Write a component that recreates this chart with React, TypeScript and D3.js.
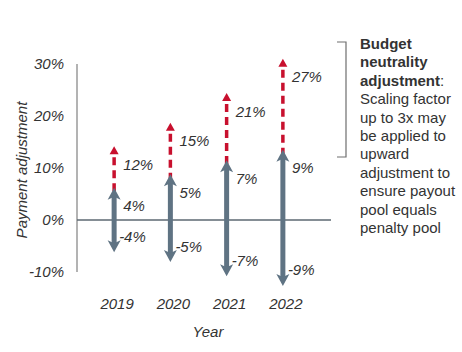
import React, { useRef, useEffect } from 'react';
import * as d3 from 'd3';

// chart data
const years = ['2019', '2020', '2021', '2022'];
const upLabels = ['4%', '5%', '7%', '9%'];
const downLabels = ['-4%', '-5%', '-7%', '-9%'];
const scaledLabels = ['12%', '15%', '21%', '27%'];
// arrow ends as drawn against the axis (the arrows are schematic, not to scale)
const upEnds = [6.2, 8.8, 11.5, 13.5];
const downEnds = [-6.2, -8.1, -10.8, -12.7];
const scaledEnds = [14.2, 18.7, 24.4, 31];
const yTicks = [30, 20, 10, 0, -10];
const noteBold = ['Budget', 'neutrality', 'adjustment'];
const noteLines = ['Scaling factor', 'up to 3x may', 'be applied to', 'upward', 'adjustment to', 'ensure payout', 'pool equals', 'penalty pool'];

const GRAY = '#5f7383';
const RED = '#c8102e';
const TEXT = '#333333';
const FONT = '"Liberation Sans", Arial, sans-serif';

const App = () => {
  const svgRef = useRef<SVGSVGElement>(null);

  useEffect(() => {
    const svg = d3.select(svgRef.current);
    svg.selectAll('*').remove();
    svg.attr('width', 462).attr('height', 352).style('font-family', FONT);

    const y = d3.scaleLinear().domain([-10, 30]).range([272, 64]);
    const x = d3.scaleBand().domain(years).range([86, 311]).padding(0);
    const cx = (d: string) => (x(d) as number) + x.bandwidth() / 2;

    // y axis line
    svg.append('line')
      .attr('x1', 77).attr('x2', 77)
      .attr('y1', y(30)).attr('y2', y(-10))
      .attr('stroke', '#b3b3b3').attr('stroke-width', 2);

    // tick labels
    svg.append('g').selectAll('text')
      .data(yTicks)
      .join('text')
      .attr('x', 64)
      .attr('y', d => y(d))
      .attr('dy', '0.36em')
      .attr('text-anchor', 'end')
      .attr('font-size', 15)
      .attr('font-style', 'italic')
      .attr('fill', TEXT)
      .text(d => `${d}%`);

    // zero line
    svg.append('line')
      .attr('x1', 77).attr('x2', 331)
      .attr('y1', y(0)).attr('y2', y(0))
      .attr('stroke', '#5c6872').attr('stroke-width', 1.5);

    // axis titles
    svg.append('text')
      .attr('transform', `translate(27,${(y(30) + y(-10)) / 2 + 2}) rotate(-90)`)
      .attr('text-anchor', 'middle')
      .attr('font-size', 15)
      .attr('font-style', 'italic')
      .attr('fill', TEXT)
      .text('Payment adjustment');

    svg.append('text')
      .attr('x', 208).attr('y', 337)
      .attr('text-anchor', 'middle')
      .attr('font-size', 15)
      .attr('font-style', 'italic')
      .attr('fill', TEXT)
      .text('Year');

    svg.append('g').selectAll('text')
      .data(years)
      .join('text')
      .attr('x', d => cx(d) + 3)
      .attr('y', 309)
      .attr('text-anchor', 'middle')
      .attr('font-size', 15)
      .attr('font-style', 'italic')
      .attr('fill', TEXT)
      .text(d => d);

    const arrows = svg.append('g');
    years.forEach((yr, i) => {
      const ax = cx(yr);
      const y0 = y(0);
      const yUp = y(upEnds[i]);
      const yDown = y(downEnds[i]);
      const yRed = y(scaledEnds[i]);

      // red dashed extension
      arrows.append('line')
        .attr('x1', ax).attr('x2', ax)
        .attr('y1', yRed + 11).attr('y2', yUp + 4)
        .attr('stroke', RED).attr('stroke-width', 3.5)
        .attr('stroke-dasharray', '8,5');
      arrows.append('path')
        .attr('d', `M${ax},${yRed} L${ax + 4.5},${yRed + 8} L${ax - 4.5},${yRed + 8} Z`)
        .attr('fill', RED);

      // gray double arrow
      arrows.append('line')
        .attr('x1', ax).attr('x2', ax)
        .attr('y1', yUp + 8).attr('y2', yDown - 8)
        .attr('stroke', GRAY).attr('stroke-width', 5);
      arrows.append('path')
        .attr('d', `M${ax},${yUp} L${ax + 6.5},${yUp + 12} L${ax},${yUp + 9} L${ax - 6.5},${yUp + 12} Z`)
        .attr('fill', GRAY);
      arrows.append('path')
        .attr('d', `M${ax},${yDown} L${ax + 6.5},${yDown - 12} L${ax},${yDown - 9} L${ax - 6.5},${yDown - 12} Z`)
        .attr('fill', GRAY);

      const label = (tx: number, ty: number, t: string) =>
        arrows.append('text')
          .attr('x', tx).attr('y', ty)
          .attr('dy', '0.36em')
          .attr('font-size', 15)
          .attr('font-style', 'italic')
          .attr('fill', TEXT)
          .text(t);
      label(ax + 9, yRed + 18, scaledLabels[i]);
      label(ax + 9, yUp + 18, upLabels[i]);
      label(ax + 5, yDown - 16, downLabels[i]);
    });

    // bracket
    svg.append('path')
      .attr('d', 'M337,42 H346 V157 H337')
      .attr('fill', 'none')
      .attr('stroke', '#6e6e6e')
      .attr('stroke-width', 1.2);

    const note = svg.append('text')
      .attr('font-size', 15)
      .attr('fill', TEXT);
    const lh = 18.4;
    noteBold.forEach((t, i) => {
      const ts = note.append('tspan')
        .attr('x', 360)
        .attr('y', 49 + i * lh)
        .attr('font-weight', 'bold')
        .text(t);
      if (i === noteBold.length - 1) {
        note.append('tspan').text(':');
      }
      return ts;
    });
    noteLines.forEach((t, i) => {
      note.append('tspan')
        .attr('x', 360)
        .attr('y', 49 + (i + noteBold.length) * lh)
        .text(t);
    });
  }, []);

  return (
    <div style={{ position: 'fixed', left: 0, top: 0, width: 462, height: 352, background: '#fff' }}>
      <svg ref={svgRef}></svg>
    </div>
  );
};

export default App;
